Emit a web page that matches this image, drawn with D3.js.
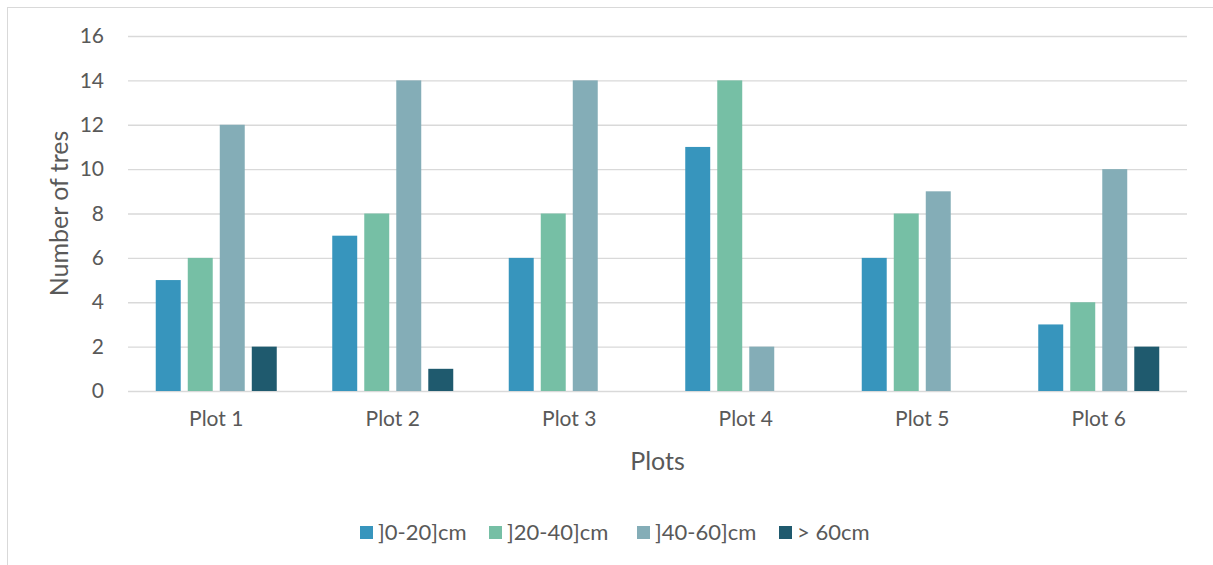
<!DOCTYPE html>
<html>
<head>
<meta charset="utf-8">
<script src="https://cdn.jsdelivr.net/npm/d3@7"></script>
<style>
  html, body { margin: 0; padding: 0; background: #fff; }
  svg { display: block; }
  text { font-family: Lato, "Open Sans", "Liberation Sans", sans-serif; fill: #595959; }
</style>
</head>
<body>
<svg id="chart" width="1213" height="565"></svg>
<script>
const categories = ["Plot 1", "Plot 2", "Plot 3", "Plot 4", "Plot 5", "Plot 6"];
const seriesNames = ["]0-20]cm", "]20-40]cm", "]40-60]cm", "> 60cm"];
const s0to20 = [5, 7, 6, 11, 6, 3];
const s20to40 = [6, 8, 8, 14, 8, 4];
const s40to60 = [12, 14, 14, 2, 9, 10];
const sOver60 = [2, 1, 0, 0, 0, 2];
const yTicks = [0, 2, 4, 6, 8, 10, 12, 14, 16];
const colors = ["#3795bd", "#76bfa5", "#84adb7", "#1f5a6e"];

const seriesValues = [s0to20, s20to40, s40to60, sOver60];

const svg = d3.select("#chart");
const plotL = 128, plotR = 1187, plotT = 36, plotB = 391;

// border of chart area
svg.append("line").attr("x1", 7).attr("x2", 1213).attr("y1", 7.5).attr("y2", 7.5)
  .attr("stroke", "#d9d9d9").attr("stroke-width", 1);
svg.append("line").attr("x1", 7.5).attr("x2", 7.5).attr("y1", 7).attr("y2", 565)
  .attr("stroke", "#d9d9d9").attr("stroke-width", 1);

const y = d3.scaleLinear().domain([0, 16]).range([plotB, plotT]);
const x0 = d3.scaleBand().domain(categories).range([plotL, plotR]).padding(0);
const groupW = 121;
const x1 = d3.scaleBand().domain(d3.range(seriesNames.length)).range([0, groupW]).paddingInner(0.22);

// gridlines
const yAxis = d3.axisLeft(y).tickValues(yTicks).tickSize(-(plotR - plotL)).tickPadding(24);
const gy = svg.append("g").attr("transform", `translate(${plotL},0)`).call(yAxis);
gy.select(".domain").remove();
gy.selectAll(".tick line").attr("stroke", "#d9d9d9").attr("stroke-width", 1.3);
gy.selectAll(".tick text").style("font-size", "21px").attr("fill", "#595959");

// bars
const groups = svg.append("g").selectAll("g").data(categories).join("g")
  .attr("transform", d => `translate(${x0(d) + (x0.bandwidth() - groupW) / 2},0)`);
groups.selectAll("rect")
  .data((c, i) => seriesValues.map((vals, s) => ({ s, v: vals[i] })))
  .join("rect")
  .attr("x", d => x1(d.s))
  .attr("width", x1.bandwidth())
  .attr("y", d => y(d.v))
  .attr("height", d => y(0) - y(d.v))
  .attr("fill", d => colors[d.s]);

// x axis labels
const xAxis = d3.axisBottom(x0).tickSize(0).tickPadding(20);
const gx = svg.append("g").attr("transform", `translate(0,${plotB})`).call(xAxis);
gx.select(".domain").remove();
gx.selectAll(".tick text").style("font-size", "21px").attr("fill", "#595959");

// axis titles
svg.append("text").attr("x", (plotL + plotR) / 2).attr("y", 470)
  .attr("text-anchor", "middle").style("font-size", "25px").text("Plots");
svg.append("text").attr("transform", `translate(68,${(plotT + plotB) / 2}) rotate(-90)`)
  .attr("text-anchor", "middle").style("font-size", "25px").text("Number of tres");

// legend
const legendX = [360, 489, 637, 779];
const lg = svg.append("g").selectAll("g").data(seriesNames).join("g")
  .attr("transform", (d, i) => `translate(${legendX[i]},526)`);
lg.append("rect").attr("width", 13).attr("height", 13).attr("fill", (d, i) => colors[i]);
lg.append("text").attr("x", 18).attr("y", 14).style("font-size", "22px").text(d => d);
</script>
</body>
</html>
